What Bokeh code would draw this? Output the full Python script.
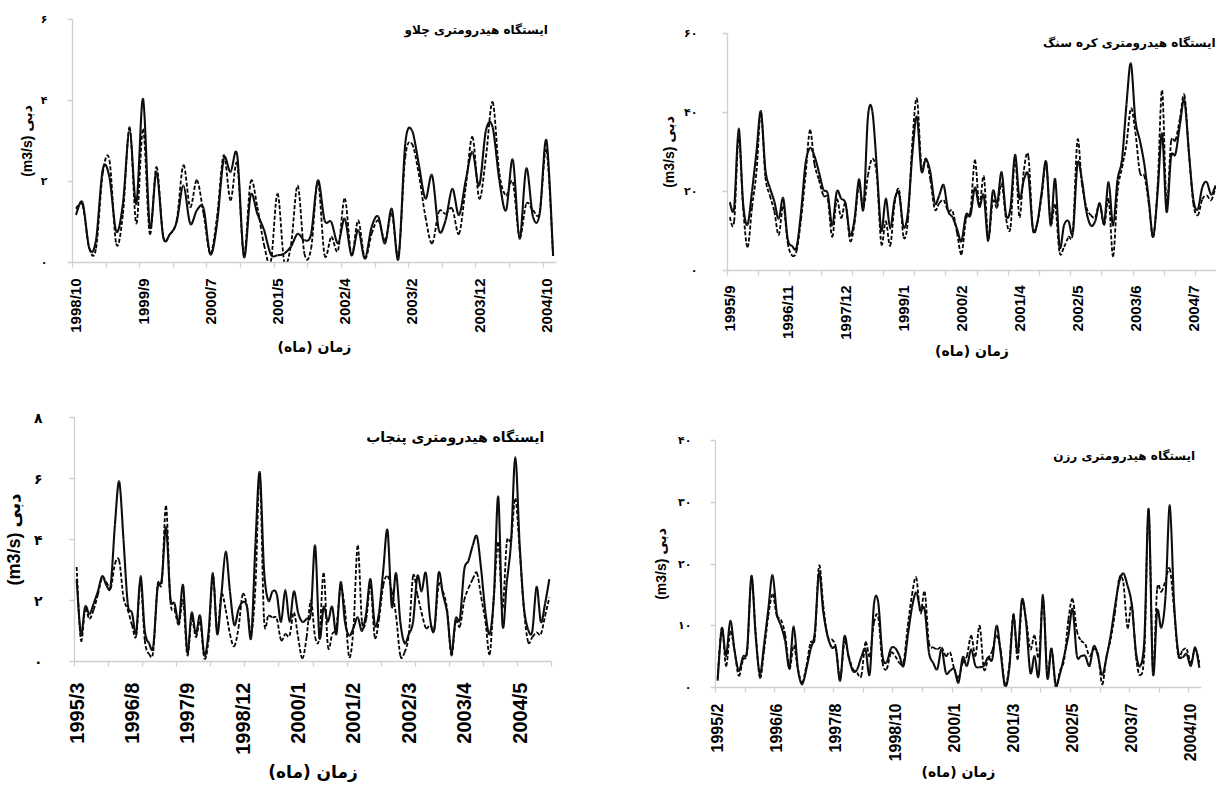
import math
from bokeh.plotting import figure
from bokeh.models import Range1d, FixedTicker, Label
from bokeh.layouts import column, row
from bokeh.embed import file_html
from bokeh.resources import INLINE

FA_FONT = "DejaVu Sans"
LAT_FONT = "Liberation Sans"
MIX_FONT = "Liberation Sans, DejaVu Sans"
AXIS_GRAY = "#d0d0d0"

Y_TITLE = "(m3/s) دبی"
X_TITLE = "زمان (ماه)"

# ---------------- Panel 1 : Chalous ----------------
chalous_title = "ایستگاه هیدرومتری چلاو"
chalous_xlabels = ["1998/10", "1999/9", "2000/7", "2001/5", "2002/4", "2003/2", "2003/12", "2004/10"]
chalous_yticks = [0, 2, 4, 6]
chalous_ylabels = ["۰", "۲", "۴", "۶"]
chalous_obs = [1.17, 1.48, 0.35, 0.55, 2.30, 2.10, 0.77, 1.45, 3.26, 1.45,
               4.04, 0.88, 2.23, 0.63, 0.70, 1.00, 1.90, 0.96, 1.29, 1.33,
               0.20, 0.96, 2.56, 2.23, 2.65, 0.14, 1.66, 1.20, 0.80, 0.20,
               0.18, 0.22, 0.39, 0.71, 0.55, 0.71, 2.03, 1.04, 1.00, 0.47,
               1.08, 0.18, 0.80, 0.10, 0.88, 1.13, 0.47, 1.33, 0.10, 2.93,
               3.26, 2.44, 1.58, 2.15, 0.80, 1.04, 1.82, 1.17, 2.03, 2.73,
               1.90, 3.26, 3.34, 2.03, 1.29, 2.54, 0.59, 2.32, 1.13, 1.20,
               3.02, 0.16]
chalous_sim = [1.33, 1.41, 0.35, 0.35, 2.20, 2.52, 0.47, 1.20, 3.34, 0.96,
               3.30, 0.71, 2.36, 0.63, 0.70, 1.04, 2.40, 1.37, 2.03, 1.20,
               0.22, 1.13, 2.65, 1.54, 2.44, 0.18, 1.99, 1.37, 0.43, 0.02,
               1.70, 0.02, 0.43, 1.90, 0.22, 0.35, 1.99, 0.18, 0.63, 0.30,
               1.58, 0.18, 1.04, 0.10, 0.71, 1.04, 0.55, 1.20, 0.18, 2.60,
               2.93, 2.20, 1.13, 0.47, 1.25, 1.20, 1.33, 0.71, 1.87, 3.10,
               1.58, 2.60, 3.96, 2.20, 1.66, 1.99, 0.63, 1.45, 1.29, 1.25,
               2.77, 0.16]

# ---------------- Panel 2 : Kareh Sang ----------------
karehsang_title = "ایستگاه هیدرومتری کره سنگ"
karehsang_xlabels = ["1995/9", "1996/11", "1997/12", "1999/1", "2000/2", "2001/4", "2002/5", "2003/6", "2004/7"]
karehsang_yticks = [0, 20, 40, 60]
karehsang_ylabels = ["۰", "۲۰", "۴۰", "۶۰"]
karehsang_obs = [17.3, 16.0, 35.9, 17.0, 11.6, 20.0, 30.0, 40.3, 25.5, 21.0,
                 17.5, 13.1, 18.3, 8.0, 6.2, 5.9, 14.8, 27.0, 31.0, 29.0,
                 25.0, 20.5, 19.4, 11.4, 19.9, 18.2, 16.9, 9.0, 13.0, 23.1,
                 15.6, 38.9, 40.3, 26.0, 10.1, 18.2, 10.6, 18.0, 19.4, 11.0,
                 15.0, 30.0, 38.9, 25.2, 28.3, 24.9, 17.0, 19.0, 21.6, 15.0,
                 13.5, 10.5, 7.4, 14.1, 14.0, 21.0, 16.1, 19.0, 7.5, 20.0,
                 17.0, 24.9, 14.0, 16.0, 29.3, 18.2, 23.0, 24.0, 10.6, 12.0,
                 20.0, 27.5, 11.4, 23.2, 6.0, 11.5, 12.5, 9.7, 27.0, 23.0,
                 15.0, 11.4, 12.5, 17.0, 12.0, 22.4, 11.4, 23.0, 28.0, 42.0,
                 52.4, 38.0, 33.0, 27.0, 18.0, 8.5, 19.9, 34.7, 14.8, 28.7,
                 29.5, 37.0, 43.1, 30.0, 18.0, 15.5, 21.0, 22.4, 19.2, 21.5]
karehsang_sim = [13.5, 12.5, 33.8, 16.0, 5.9, 16.0, 25.0, 40.0, 23.7, 19.0,
                 15.0, 9.0, 16.5, 7.0, 3.8, 5.0, 13.0, 24.0, 35.5, 27.0,
                 23.0, 19.0, 18.0, 8.5, 18.0, 13.3, 17.0, 7.5, 12.0, 21.5,
                 16.0, 24.0, 28.3, 24.0, 6.8, 12.5, 6.3, 17.0, 20.3, 8.5,
                 13.0, 33.0, 43.5, 26.5, 28.3, 23.0, 15.5, 17.0, 17.8, 15.0,
                 15.0, 9.5, 4.2, 13.0, 15.0, 27.9, 16.5, 23.8, 8.3, 17.5,
                 16.0, 22.0, 13.0, 11.0, 28.5, 13.5, 25.5, 28.9, 10.5, 12.0,
                 19.0, 27.0, 12.0, 16.5, 4.6, 6.0, 8.5, 10.0, 33.0, 22.0,
                 16.0, 14.0, 13.5, 17.0, 11.5, 18.0, 3.6, 20.0, 26.0, 32.0,
                 41.0, 35.0, 24.9, 24.0, 17.0, 8.5, 21.5, 45.6, 17.0, 32.5,
                 33.0, 38.5, 44.4, 30.0, 17.0, 14.0, 18.0, 19.0, 17.8, 21.0]

# ---------------- Panel 3 : Panjab ----------------
panjab_title = "ایستگاه هیدرومتری پنجاب"
panjab_xlabels = ["1995/3", "1996/8", "1997/9", "1998/12", "2000/1", "2001/2", "2002/3", "2003/4", "2004/5"]
panjab_yticks = [0, 2, 4, 6, 8]
panjab_ylabels = ["۰", "۲", "۴", "۶", "۸"]
panjab_obs = [2.7, 0.9, 1.8, 1.55, 1.9, 2.3, 2.8, 2.5, 2.5, 4.5,
              5.9, 4.0, 1.9, 1.6, 0.95, 2.8, 1.0, 0.6, 0.5, 2.4,
              2.7, 4.4, 2.1, 1.9, 1.3, 2.5, 0.3, 1.6, 0.9, 1.5,
              0.2, 1.0, 2.9, 0.9, 2.2, 3.6, 2.3, 1.2, 1.7, 1.95,
              1.8, 0.8, 3.9, 6.2, 3.0, 2.0, 2.3, 2.2, 1.3, 2.35,
              1.3, 2.3, 1.6, 1.3, 1.4, 1.6, 3.8, 0.8, 1.8, 1.3,
              1.8, 0.9, 2.6, 1.3, 0.85, 1.1, 1.45, 1.0, 1.6, 2.7,
              1.2, 1.6, 3.0, 4.3, 1.8, 2.9, 1.3, 0.6, 0.9, 1.3,
              2.8, 2.3, 2.9, 1.4, 1.05, 2.9, 2.2, 1.6, 0.3, 1.4,
              1.4, 3.0, 3.3, 3.8, 4.1, 3.0, 1.6, 0.9, 2.2, 5.4,
              1.2, 2.6, 3.9, 6.7, 3.9, 1.8, 1.05, 1.0, 2.45, 1.3,
              1.9, 2.7]
panjab_sim = [3.1, 0.7, 1.7, 1.4, 1.7, 2.2, 2.75, 2.6, 2.4, 3.2,
              3.3, 2.1, 1.7, 1.2, 0.85, 2.6, 0.7, 0.25, 0.35, 2.5,
              2.6, 5.1, 2.0, 1.7, 1.2, 2.0, 0.2, 1.4, 0.8, 1.3,
              0.1, 0.75, 2.8, 1.0, 2.2, 1.7, 0.9, 0.5, 1.1, 2.2,
              1.8, 0.9, 2.5, 6.1, 1.4, 1.5, 1.45, 1.4, 0.7, 0.9,
              0.85, 1.6, 0.8, 0.1, 0.8, 2.0, 0.8, 0.8, 2.9, 0.5,
              0.9, 1.15, 2.4, 1.7, 0.15, 1.1, 3.8, 1.3, 1.4, 2.5,
              0.8, 1.4, 2.5, 2.8, 2.3, 1.5, 0.2, 0.3, 0.9, 2.8,
              2.2, 1.6, 1.1, 1.2, 1.1, 2.5, 2.3, 1.7, 0.2, 1.3,
              1.15, 2.0, 2.4, 2.7, 2.9, 2.1, 1.3, 0.25, 2.2, 3.9,
              1.75, 3.9, 4.0, 5.35, 3.7, 1.75, 0.65, 0.8, 0.95, 0.9,
              1.5, 2.1]

# ---------------- Panel 4 : Razan ----------------
razan_title = "ایستگاه هیدرومتری رزن"
razan_xlabels = ["1995/2", "1996/6", "1997/8", "1998/10", "2000/1", "2001/3", "2002/5", "2003/7", "2004/10"]
razan_yticks = [0, 10, 20, 30, 40]
razan_ylabels = ["۰", "۱۰", "۲۰", "۳۰", "۴۰"]
razan_obs = [1.1, 9.5, 5.1, 10.8, 6.0, 2.7, 5.0, 6.2, 18.1, 8.4,
             2.2, 7.0, 12.7, 18.2, 12.0, 10.0, 7.5, 3.2, 9.9, 3.0,
             0.5, 3.0, 6.2, 8.9, 18.6, 12.2, 8.4, 6.5, 6.2, 1.1,
             8.3, 4.9, 2.7, 2.9, 4.9, 6.2, 2.2, 13.5, 13.8, 5.2,
             4.1, 6.3, 6.4, 5.2, 3.5, 8.4, 13.0, 15.4, 12.6, 12.6,
             5.7, 4.0, 3.0, 6.2, 2.4, 2.7, 3.0, 0.8, 4.9, 3.5,
             6.2, 3.5, 3.3, 3.5, 4.9, 4.6, 10.0, 5.5, 0.2, 3.0,
             11.4, 5.7, 14.2, 10.5, 2.4, 5.1, 2.0, 15.0, 1.6, 6.3,
             0.5, 2.2, 5.1, 8.4, 12.7, 5.2, 5.1, 5.1, 3.5, 6.7,
             5.1, 2.0, 4.8, 8.4, 13.0, 17.0, 18.5, 16.5, 13.5, 5.7,
             3.5, 8.0, 28.9, 2.4, 12.4, 9.7, 14.9, 29.5, 13.8, 5.7,
             4.9, 5.4, 3.5, 6.5, 3.2]
razan_sim = [1.5, 9.7, 3.5, 9.0, 6.0, 1.9, 4.5, 6.0, 17.6, 9.0,
             1.6, 6.0, 11.6, 15.1, 11.6, 11.0, 8.5, 3.0, 6.8, 3.0,
             0.8, 3.5, 7.3, 8.0, 19.7, 13.3, 8.4, 7.8, 6.5, 1.4,
             7.3, 5.1, 3.0, 2.4, 1.9, 7.3, 5.1, 10.5, 11.4, 4.1,
             3.0, 5.6, 5.1, 4.0, 4.1, 10.0, 15.0, 17.8, 12.0, 15.5,
             7.3, 6.5, 6.2, 6.5, 5.1, 5.7, 3.0, 1.6, 4.0, 5.1,
             8.4, 5.1, 10.0, 3.0, 4.6, 6.0, 8.4, 6.0, 0.5, 3.5,
             11.9, 4.6, 13.5, 11.0, 6.2, 8.4, 4.9, 14.3, 2.2, 6.3,
             0.0, 2.7, 4.5, 11.0, 14.3, 9.2, 7.6, 7.0, 5.1, 6.2,
             5.5, 0.5, 5.0, 7.8, 12.0, 17.6, 17.0, 9.7, 13.5, 5.0,
             2.0, 6.0, 28.4, 3.0, 15.9, 15.5, 17.3, 19.2, 12.7, 5.1,
             6.0, 6.2, 4.0, 6.3, 4.0]


def smooth_segments(ys):
    """Bezier segments (Excel-style smoothed line) through the data points."""
    n = len(ys)
    xs = list(range(n))
    seg = {k: [] for k in ("x0", "y0", "x1", "y1", "cx0", "cy0", "cx1", "cy1")}
    for i in range(n - 1):
        im = max(i - 1, 0)
        ip = min(i + 2, n - 1)
        seg["x0"].append(xs[i])
        seg["y0"].append(ys[i])
        seg["x1"].append(xs[i + 1])
        seg["y1"].append(ys[i + 1])
        seg["cx0"].append(xs[i] + (xs[i + 1] - xs[im]) / 6.0)
        seg["cy0"].append(ys[i] + (ys[i + 1] - ys[im]) / 6.0)
        seg["cx1"].append(xs[i + 1] - (xs[ip] - xs[i]) / 6.0)
        seg["cy1"].append(ys[i + 1] - (ys[ip] - ys[i]) / 6.0)
    return seg


def panel(obs, sim, xlabels, lstep, tstep, xend, yticks, ylabels, title, title_xy,
          width, height, borders, fs, so):
    p = figure(width=width, height=height, output_backend="svg", toolbar_location=None,
               x_range=Range1d(-0.5, xend), y_range=Range1d(yticks[0], yticks[-1]),
               min_border_left=borders[0], min_border_right=borders[1],
               min_border_top=borders[2], min_border_bottom=borders[3],
               background_fill_color="white", border_fill_color="white")
    p.frame_align = False
    p.outline_line_color = None
    p.xgrid.visible = False
    p.ygrid.visible = False

    p.bezier(line_color="#000000", line_width=1.8, line_dash="4 2", **smooth_segments(sim))
    p.bezier(line_color="#0d0d0d", line_width=2.1, **smooth_segments(obs))

    # x axis (category style: labels every lstep, tick marks every tstep)
    lpos = [k * lstep for k in range(len(xlabels))]
    minor = []
    t = -0.5
    while t <= xend + 1e-9:
        minor.append(t)
        t += tstep
    xa = p.xaxis[0]
    xa.ticker = FixedTicker(ticks=lpos, minor_ticks=minor)
    xa.major_label_overrides = {k: v for k, v in zip(lpos, xlabels)}
    xa.axis_line_color = AXIS_GRAY
    xa.axis_line_width = 1.3
    xa.major_tick_line_color = None
    xa.major_tick_out = 0
    xa.major_tick_in = 0
    xa.minor_tick_line_color = AXIS_GRAY
    xa.minor_tick_line_width = 1.3
    xa.minor_tick_out = 5
    xa.minor_tick_in = 0
    xa.major_label_orientation = math.pi / 2
    xa.major_label_text_font = LAT_FONT
    xa.major_label_text_font_style = "bold"
    xa.major_label_text_font_size = fs["xtick"]
    xa.major_label_text_color = "black"
    xa.major_label_standoff = so["xtick"]
    xa.axis_label = X_TITLE
    xa.axis_label_text_font = FA_FONT
    xa.axis_label_text_font_style = "bold"
    xa.axis_label_text_font_size = fs["xtitle"]
    xa.axis_label_text_color = "black"
    xa.axis_label_standoff = so["xtitle"]

    ya = p.yaxis[0]
    ya.ticker = FixedTicker(ticks=yticks)
    ya.major_label_overrides = {k: v for k, v in zip(yticks, ylabels)}
    ya.axis_line_color = AXIS_GRAY
    ya.axis_line_width = 1.3
    ya.major_tick_line_color = AXIS_GRAY
    ya.major_tick_line_width = 1.3
    ya.major_tick_out = 5
    ya.major_tick_in = 0
    ya.minor_tick_line_color = None
    ya.major_label_text_font = FA_FONT
    ya.major_label_text_font_style = "bold"
    ya.major_label_text_font_size = fs["ytick"]
    ya.major_label_text_color = "black"
    ya.major_label_standoff = so["ytick"]
    ya.axis_label = Y_TITLE
    ya.axis_label_text_font = MIX_FONT
    ya.axis_label_text_font_style = "bold"
    ya.axis_label_text_font_size = fs["ytitle"]
    ya.axis_label_text_color = "black"
    ya.axis_label_standoff = so["ytitle"]

    p.add_layout(Label(x=title_xy[0], y=title_xy[1], text=title, text_align="right",
                       text_baseline="middle", text_font=FA_FONT, text_font_style="bold",
                       text_font_size=fs["title"], text_color="black"))
    return p


small = {"xtick": "15px", "ytick": "11px", "xtitle": "14px", "ytitle": "14px", "title": "12px"}
large = {"xtick": "20px", "ytick": "14px", "xtitle": "17px", "ytitle": "18px", "title": "14px"}
medium = {"xtick": "16px", "ytick": "11px", "xtitle": "14px", "ytitle": "14px", "title": "12px"}

p1 = panel(chalous_obs, chalous_sim, chalous_xlabels, 10, 5, 71.5,
           chalous_yticks, chalous_ylabels, chalous_title, (70.2, 5.73),
           604, 380, (72, 48, 19, 118), small,
           {"xtick": 11, "xtitle": 3, "ytick": 20, "ytitle": 3})
p2 = panel(karehsang_obs, karehsang_sim, karehsang_xlabels, 13, 7, 109.2,
           karehsang_yticks, karehsang_ylabels, karehsang_title, (109.0, 57.7),
           612, 380, (123, 0, 33, 110), small,
           {"xtick": 10, "xtitle": 0, "ytick": 25, "ytitle": 4})
p3 = panel(panjab_obs, panjab_sim, panjab_xlabels, 13, 8, 111.5,
           panjab_yticks, panjab_ylabels, panjab_title, (109.8, 7.36),
           604, 404, (72, 53, 37, 120), large,
           {"xtick": 16, "xtitle": 4, "ytick": 27, "ytitle": 7})
p4 = panel(razan_obs, razan_sim, razan_xlabels, 14, 7, 114.5,
           razan_yticks, razan_ylabels, razan_title, (113.0, 37.55),
           612, 404, (111, 15, 60, 97), medium,
           {"xtick": 11, "xtitle": 0, "ytick": 19, "ytitle": 6})

layout = column(row(p1, p2), row(p3, p4))
open("out.html", "w").write(file_html(layout, INLINE))
